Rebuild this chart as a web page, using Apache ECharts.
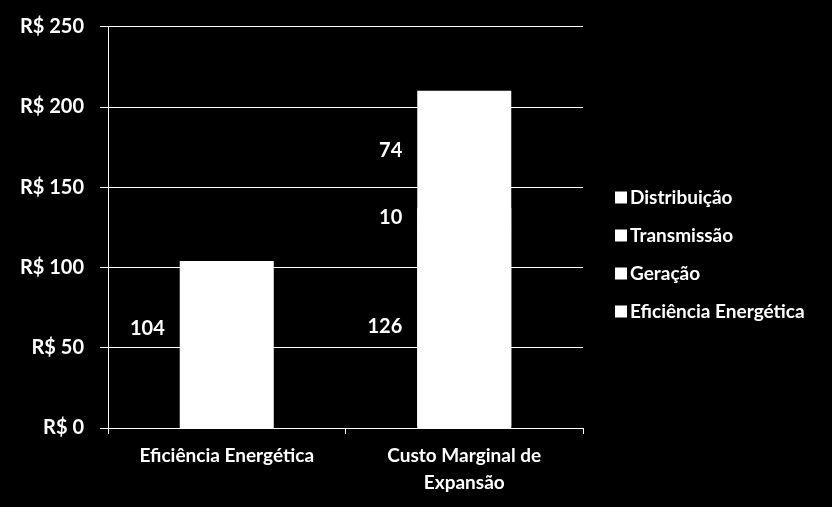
<!DOCTYPE html>
<html>
<head>
<meta charset="utf-8">
<script src="https://cdn.jsdelivr.net/npm/echarts@6/dist/echarts.min.js"></script>
<style>html,body{margin:0;padding:0;background:#000;}#c{width:832px;height:507px;}</style>
</head>
<body>
<div id="c"></div>
<script>
var categories = ['Eficiência Energética', 'Custo Marginal de\nExpansão'];
var eficiencia = [104, '-'];
var geracao = ['-', 126];
var transmissao = ['-', 10];
var distribuicao = ['-', 74];
var yTicks = [0, 50, 100, 150, 200, 250];

var chart = echarts.init(document.getElementById('c'));
var font = 'Lato';
function seg(name, data, extra, coverSeam) {
  var s = {
    name: name, type: 'bar', stack: 'total', data: data, barWidth: 94,
    itemStyle: { color: '#ffffff' },
    label: { show: true, position: 'left', distance: 15, color: '#fff', fontFamily: font, fontSize: 20, fontWeight: 'bold' }
  };
  if (coverSeam) {
    s.itemStyle.shadowColor = '#ffffff';
    s.itemStyle.shadowBlur = 0;
    s.itemStyle.shadowOffsetY = -1.5;
  }
  if (extra) s.label.offset = extra;
  return s;
}
chart.setOption({
  backgroundColor: '#000',
  animation: false,
  grid: { left: 108, right: 249, top: 26.5, bottom: 79 },
  legend: {
    orient: 'vertical', left: 615, top: 188, padding: 0, itemWidth: 12, itemHeight: 12, itemGap: 19,
    icon: 'rect',
    data: ['Distribuição', 'Transmissão', 'Geração', 'Eficiência Energética'],
    textStyle: { color: '#fff', fontFamily: font, fontSize: 19, fontWeight: 'bold', padding: [0, 0, 0, -2] }
  },
  xAxis: {
    type: 'category', data: categories,
    axisLine: { lineStyle: { color: '#fff', width: 1 } },
    axisTick: { show: true, length: 6, lineStyle: { color: '#fff' } },
    axisLabel: { color: '#fff', fontFamily: font, fontSize: 19, fontWeight: 'bold', margin: 14, lineHeight: 27 }
  },
  yAxis: {
    type: 'value', min: yTicks[0], max: yTicks[yTicks.length - 1], interval: 50,
    axisLine: { show: true, lineStyle: { color: '#fff', width: 1 } },
    axisTick: { show: true, length: 8, lineStyle: { color: '#fff' } },
    splitLine: { lineStyle: { color: '#fff', width: 1 } },
    axisLabel: { color: '#fff', fontFamily: font, fontSize: 20, fontWeight: 'bold', margin: 24,
      formatter: function (v) { return 'R$ ' + v; } }
  },
  series: [
    seg('Eficiência Energética', eficiencia, [0, -16], false),
    seg('Geração', geracao, null, true),
    seg('Transmissão', transmissao, null, true),
    seg('Distribuição', distribuicao, null, false)
  ]
});
</script>
</body>
</html>
